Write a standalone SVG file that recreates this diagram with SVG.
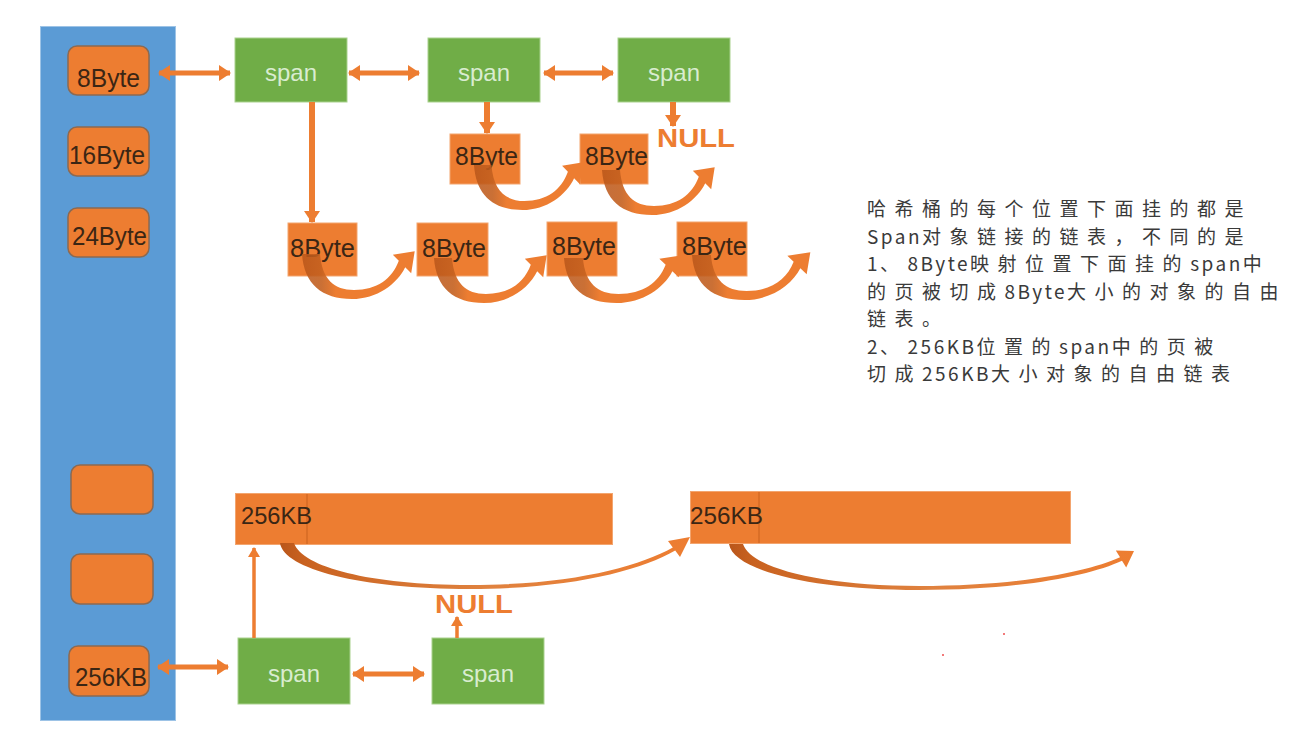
<svg xmlns="http://www.w3.org/2000/svg" xmlns:xlink="http://www.w3.org/1999/xlink" width="1312" height="739" viewBox="0 0 1312 739">
<style>
.blue{fill:#5b9bd5;stroke:#9dc3e6;stroke-width:1}
.slot{fill:#ed7d31;stroke:#8c6a52;stroke-width:1.5}
.obj{fill:#ed7d31;stroke:#f3a56f;stroke-width:1}
.span{fill:#70ad47;stroke:#a9d18e;stroke-width:1}
.lbl{font-family:"Liberation Sans",Arial,sans-serif;fill:#3b2614}
.slbl{font-family:"Liberation Sans",Arial,sans-serif;font-size:24px;fill:#d9ecd0;text-anchor:middle}
.null{font-family:"Liberation Sans",Arial,sans-serif;font-size:26px;font-weight:bold;fill:#ed7d31}
.note{font-family:"Noto Sans CJK SC","Noto Sans",sans-serif;font-size:19px;fill:#3a3a3a;letter-spacing:8.5px}
.lat{letter-spacing:2.5px}
.dbl{stroke:#ed7d31;stroke-width:5;fill:none;marker-start:url(#ah);marker-end:url(#ah)}
.down{stroke:#ed7d31;stroke-width:6;fill:none;marker-end:url(#ah)}
.up{stroke:#ed7d31;stroke-width:3.5;fill:none;marker-end:url(#ahs)}
</style>
<defs>
<marker id="ah" markerUnits="userSpaceOnUse" markerWidth="12" markerHeight="16" refX="11" refY="8" orient="auto-start-reverse" viewBox="0 0 12 16">
<path d="M0,0 L12,8 L0,16 z" fill="#ed7d31"/>
</marker>
<marker id="ahs" markerUnits="userSpaceOnUse" markerWidth="10" markerHeight="12" refX="9" refY="6" orient="auto" viewBox="0 0 10 12">
<path d="M0,0 L10,6 L0,12 z" fill="#ed7d31"/>
</marker>
<linearGradient id="cg" x1="0" y1="0" x2="1" y2="0">
<stop offset="0" stop-color="#b9561a" stop-opacity="0.85"/>
<stop offset="0.17" stop-color="#c4601f" stop-opacity="0.9"/>
<stop offset="0.3" stop-color="#ed7d31"/>
<stop offset="1" stop-color="#ed7d31"/>
</linearGradient>
<linearGradient id="lg" x1="0" y1="0" x2="1" y2="0">
<stop offset="0" stop-color="#b9561a"/>
<stop offset="0.06" stop-color="#c96220"/>
<stop offset="0.5" stop-color="#e0823f"/>
<stop offset="1" stop-color="#ed7d31"/>
</linearGradient>
<path id="cs" d="M0,0 C2,30 20,45 50,45 C75,45 95,30 103.2,13.2 L109.2,19.2 L112.7,-2.7 L90.8,0.8 L96.8,6.8 C90,25 75,36 52,36 C32,36 20,25 18,0 Z" fill="url(#cg)"/>
</defs>

<rect x="0" y="0" width="1312" height="739" fill="#ffffff"/>

<g id="bucket">
<rect class="blue" x="40.5" y="26.5" width="135" height="694"/>
</g>
<g id="slot-8byte">
<rect class="slot" x="68" y="46" width="81" height="49" rx="9"/>
<text class="lbl" x="77" y="87" font-size="26" textLength="63" lengthAdjust="spacingAndGlyphs">8Byte</text>
</g>
<g id="slot-16byte">
<rect class="slot" x="68" y="127" width="81" height="49" rx="9"/>
<text class="lbl" x="69" y="164" font-size="26" textLength="76" lengthAdjust="spacingAndGlyphs">16Byte</text>
</g>
<g id="slot-24byte">
<rect class="slot" x="68" y="208" width="81" height="49" rx="9"/>
<text class="lbl" x="72" y="245" font-size="26" textLength="75" lengthAdjust="spacingAndGlyphs">24Byte</text>
</g>
<g id="slot-blank1">
<rect class="slot" x="71" y="465" width="82" height="49" rx="9"/>
</g>
<g id="slot-blank2">
<rect class="slot" x="71" y="554" width="82" height="50" rx="9"/>
</g>
<g id="slot-256kb">
<rect class="slot" x="69" y="646" width="80" height="50" rx="9"/>
<text class="lbl" x="75" y="686" font-size="26" textLength="72" lengthAdjust="spacingAndGlyphs">256KB</text>
</g>

<g id="span1"><rect class="span" x="235" y="38" width="112" height="64"/><text class="slbl" x="291" y="81">span</text></g>
<g id="span2"><rect class="span" x="428" y="38" width="112" height="64"/><text class="slbl" x="484" y="81">span</text></g>
<g id="span3"><rect class="span" x="618" y="38" width="112" height="64"/><text class="slbl" x="674" y="81">span</text></g>
<g id="span4"><rect class="span" x="238" y="638" width="112" height="66"/><text class="slbl" x="294" y="682">span</text></g>
<g id="span5"><rect class="span" x="432" y="638" width="112" height="66"/><text class="slbl" x="488" y="682">span</text></g>

<g id="obj-e"><rect class="obj" x="450" y="134" width="70" height="50"/><text class="lbl" x="455" y="165" font-size="26" textLength="63" lengthAdjust="spacingAndGlyphs">8Byte</text></g>
<g id="obj-f"><rect class="obj" x="580" y="134" width="68" height="50"/><text class="lbl" x="585" y="165" font-size="26" textLength="63" lengthAdjust="spacingAndGlyphs">8Byte</text></g>
<g id="obj-a"><rect class="obj" x="288" y="223" width="69" height="53"/><text class="lbl" x="290" y="257" font-size="26" textLength="65" lengthAdjust="spacingAndGlyphs">8Byte</text></g>
<g id="obj-b"><rect class="obj" x="417" y="223" width="71" height="53"/><text class="lbl" x="422" y="257" font-size="26" textLength="64" lengthAdjust="spacingAndGlyphs">8Byte</text></g>
<g id="obj-c"><rect class="obj" x="547" y="222" width="70" height="54"/><text class="lbl" x="552" y="255" font-size="26" textLength="64" lengthAdjust="spacingAndGlyphs">8Byte</text></g>
<g id="obj-d"><rect class="obj" x="677" y="222" width="70" height="54"/><text class="lbl" x="682" y="255" font-size="26" textLength="65" lengthAdjust="spacingAndGlyphs">8Byte</text></g>

<g id="bar1"><rect class="obj" x="235.5" y="493.5" width="377" height="51"/><line x1="307" y1="494" x2="307" y2="544" stroke="#c9621f" stroke-width="1"/><text class="lbl" x="241" y="524" font-size="24" textLength="71" lengthAdjust="spacingAndGlyphs">256KB</text></g>
<g id="bar2"><rect class="obj" x="690.5" y="491.5" width="380" height="52"/><line x1="759" y1="492" x2="759" y2="543" stroke="#c9621f" stroke-width="1"/><text class="lbl" x="690" y="524" font-size="24" textLength="73" lengthAdjust="spacingAndGlyphs">256KB</text></g>

<g id="null-top"><text class="null" x="657" y="147" textLength="78" lengthAdjust="spacingAndGlyphs">NULL</text></g>
<g id="null-bottom"><text class="null" x="435" y="613" textLength="78" lengthAdjust="spacingAndGlyphs">NULL</text></g>

<g id="connectors">
<line class="dbl" x1="159" y1="73" x2="230" y2="73"/>
<line class="dbl" x1="349" y1="73" x2="419" y2="73"/>
<line class="dbl" x1="544" y1="73" x2="613" y2="73"/>
<line class="dbl" x1="158" y1="667" x2="228" y2="667"/>
<line class="dbl" x1="353" y1="674" x2="424" y2="674"/>
<line class="down" x1="312" y1="102" x2="312" y2="222"/>
<line class="down" x1="487" y1="102" x2="487" y2="133"/>
<line class="down" x1="673" y1="102" x2="673" y2="126"/>
<line class="up" x1="254" y1="638" x2="254" y2="548"/>
<line class="up" x1="457" y1="638" x2="457" y2="617"/>
<use xlink:href="#cs" href="#cs" transform="translate(474,165) scale(0.97,1)"/>
<use xlink:href="#cs" href="#cs" transform="translate(602,170)"/>
<use xlink:href="#cs" href="#cs" transform="translate(302,254)"/>
<use xlink:href="#cs" href="#cs" transform="translate(434,258)"/>
<use xlink:href="#cs" href="#cs" transform="translate(564,258) scale(1.05,1)"/>
<use xlink:href="#cs" href="#cs" transform="translate(692,255) scale(1.05,1)"/>
<path fill="url(#lg)" transform="translate(280,543)" d="M0,0 C4,26 80,46 190,46 C290,46 360,28 395.2,7.6 L400,14 L410,-6 L388,-2 L392.8,4.4 C358,24 290,42 190,42 C90,42 22,24 14,0 Z"/>
<path fill="url(#lg)" transform="translate(729,544)" d="M0,0 C4,26 80,46 190,46 C290,46 360,32 393,16.7 L397.2,23.5 L405,7 L386.8,6.5 L391,13.3 C358,28 290,42 190,42 C90,42 22,24 14,0 Z"/>
</g>

<g id="note">
<text class="note" x="867" y="216">哈希桶的每个位置下面挂的都是</text>
<text class="note" x="867" y="243.5"><tspan class="lat">Span</tspan>对象链接的链表，不同的是</text>
<text class="note" x="867" y="271"><tspan class="lat">1</tspan>、<tspan class="lat">8Byte</tspan>映射位置下面挂的<tspan class="lat">span</tspan>中</text>
<text class="note" x="867" y="298.5">的页被切成<tspan class="lat">8Byte</tspan>大小的对象的自由</text>
<text class="note" x="867" y="326">链表。</text>
<text class="note" x="867" y="353.5"><tspan class="lat">2</tspan>、<tspan class="lat">256KB</tspan>位置的<tspan class="lat">span</tspan>中的页被</text>
<text class="note" x="867" y="381">切成<tspan class="lat">256KB</tspan>大小对象的自由链表</text>
</g>

<g id="specks">
<rect x="942" y="654" width="2" height="2" fill="#f27a7a"/>
<rect x="1003" y="633" width="2" height="2" fill="#f27a7a"/>
</g>
</svg>
